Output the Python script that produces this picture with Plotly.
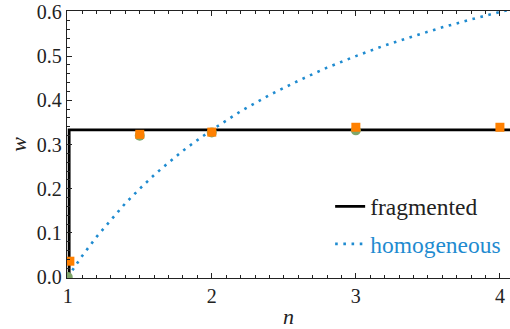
import plotly.graph_objects as go

# Homogeneous curve
hom_n = [1.0, 1.1, 1.2, 1.3, 1.4, 1.5, 1.6, 1.7, 1.8, 1.9, 2.0, 2.2, 2.4, 2.6, 2.8,
         3.0, 3.2, 3.4, 3.6, 3.8, 4.0, 4.1]
hom_w = [0.000, 0.048, 0.091, 0.130, 0.167, 0.200, 0.231, 0.259, 0.286, 0.310, 0.333,
         0.375, 0.412, 0.444, 0.474, 0.500, 0.524, 0.545, 0.565, 0.583, 0.600, 0.608]

# Fragmented step line
frag_n = [1.01, 1.01, 4.2]
frag_w = [0.0, 0.333, 0.333]

# Scatter points
green_n = [1.0, 1.5, 2.0, 3.0]
green_w = [0.0, 0.320, 0.327, 0.332]
orange_n = [1.015, 1.5, 2.0, 3.0, 4.0]
orange_w = [0.036, 0.323, 0.328, 0.339, 0.339]

BLUE = "#1f8bd0"
ORANGE = "#ff8000"
GREEN = "#7fa66a"
FONT = "Liberation Serif"

fig = go.Figure()
fig.add_trace(go.Scatter(x=frag_n, y=frag_w, mode="lines",
                         line=dict(color="black", width=2.8),
                         name="fragmented", legendgroup="a"))
fig.add_trace(go.Scatter(x=hom_n, y=hom_w, mode="lines",
                         line=dict(color=BLUE, width=2.6, dash="2.6px,5.6px"),
                         name=f"<span style='color:{BLUE}'>homogeneous</span>",
                         legendgroup="b"))
fig.add_trace(go.Scatter(x=green_n, y=green_w, mode="markers",
                         marker=dict(color=GREEN, size=10, symbol="circle"),
                         showlegend=False))
fig.add_trace(go.Scatter(x=orange_n, y=orange_w, mode="markers",
                         marker=dict(color=ORANGE, size=9, symbol="square"),
                         showlegend=False))

axis_common = dict(
    showline=True, linecolor="#222", linewidth=1.3,
    ticks="inside", tickcolor="#222", tickwidth=1,
    showgrid=False, zeroline=False, automargin=False,
    ticklabeloverflow="allow",
    tickfont=dict(family=FONT, size=20, color="#222"),
)

fig.update_xaxes(range=[0.995, 4.07], tickvals=[1, 2, 3, 4], ticklen=5,
                 mirror="ticks",
                 minor=dict(dtick=0.1, ticklen=2.5, ticks="inside", tickcolor="#222"),
                 title=dict(text="<i>n</i>", font=dict(family=FONT, size=22, color="#222")),
                 **axis_common)
fig.update_yaxes(range=[-0.002, 0.602], tickvals=[0, 0.1, 0.2, 0.3, 0.4, 0.5, 0.6],
                 tickformat=".1f", ticklen=5, mirror=False,
                 minor=dict(dtick=0.02, ticklen=2.5, ticks="inside", tickcolor="#222"),
                 title=dict(text="<i>w</i>", font=dict(family=FONT, size=22, color="#222"),
                            standoff=4),
                 **axis_common)

fig.update_layout(
    width=510, height=329,
    margin=dict(l=67, r=0, t=11, b=51),
    paper_bgcolor="white", plot_bgcolor="white",
    font=dict(family=FONT, size=20, color="#222"),
    showlegend=True,
    legend=dict(x=0.594, y=0.35, xanchor="left", yanchor="top",
                bgcolor="rgba(0,0,0,0)", tracegroupgap=4,
                font=dict(family=FONT, size=23.5, color="#222"),
                itemwidth=30),
)

# remove the browser's default 8px body margin so the figure fills the window
fig.write_html("out.html", config={"displayModeBar": False},
               post_script="document.body.style.margin='0';")
